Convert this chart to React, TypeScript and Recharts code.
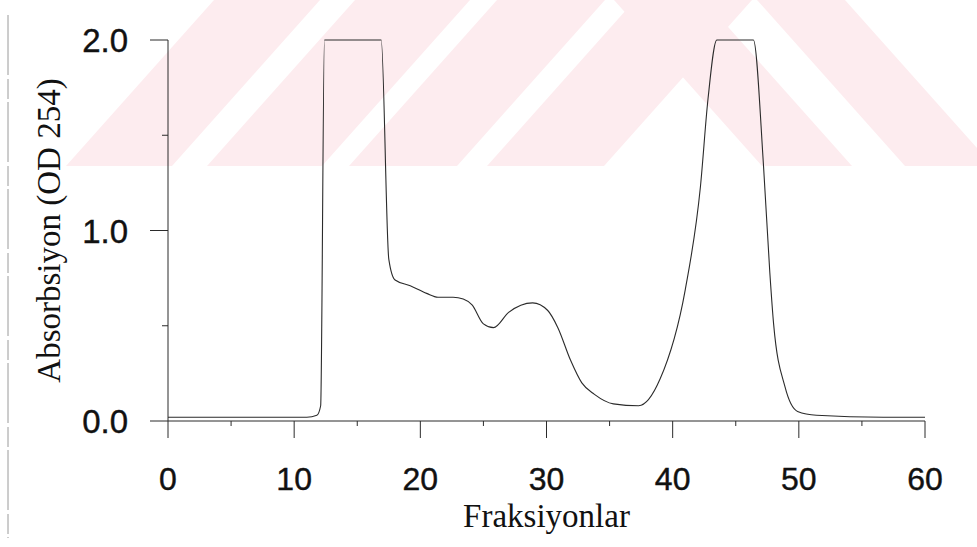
import { Line, LineChart, XAxis, YAxis } from "recharts";

// fraction number vs absorbance
const FRACTION = [
  0, 3, 6, 9, 11.0, 11.8, 12.1, 12.4, 14.5, 16.9, 17.5, 18.0, 19.2, 20.5, 21.4, 22.6, 23.4, 24.1,
  25.0, 25.8, 27.0, 28.9, 30.1, 30.9, 31.9, 32.8, 33.8, 35.3, 37.3, 39.0, 41.0, 42.2, 42.8, 43.5,
  44.3, 45.4, 46.4, 47.2, 47.7, 48.0, 48.9, 49.9, 51.4, 56.7, 60,
];
const ABSORBANCE = [
  0.02, 0.02, 0.02, 0.02, 0.02, 0.03, 0.08, 2.0, 2.0, 2.0, 0.85, 0.74, 0.71, 0.67, 0.65, 0.65, 0.64,
  0.61, 0.51, 0.49, 0.57, 0.62, 0.58, 0.49, 0.32, 0.2, 0.14, 0.09, 0.08, 0.22, 0.69, 1.23, 1.69, 2.0,
  2.0, 2.0, 2.0, 1.34, 0.78, 0.51, 0.18, 0.05, 0.03, 0.02, 0.02,
];
const X_TICKS = [0, 5, 10, 15, 20, 25, 30, 35, 40, 45, 50, 55, 60];
const Y_TICKS = [0, 0.5, 1, 1.5, 2];

const rows = FRACTION.map((f, i) => ({ f, od: ABSORBANCE[i] }));

const INK = "#2b2b2b";
const SANS = "'Liberation Sans', Arial, sans-serif";
const SERIF = "'Liberation Serif', 'Times New Roman', serif";

function XTick(props: any) {
  const { x, y, payload } = props;
  const major = payload.value % 10 === 0;
  return (
    <g>
      <line x1={x} x2={x} y1={y} y2={y + (major ? 17 : 5)} stroke={INK} strokeWidth={1} />
      {major && (
        <text
          x={x}
          y={y + 69}
          textAnchor="middle"
          fontFamily={SANS}
          fontSize={32}
          fill="#111"
          stroke="#111"
          strokeWidth={0.4}
        >
          {payload.value}
        </text>
      )}
    </g>
  );
}

function YTick(props: any) {
  const { x, y, payload } = props;
  const major = payload.value % 1 === 0;
  return (
    <g>
      <line x1={x - (major ? 18 : 6)} x2={x} y1={y} y2={y} stroke={INK} strokeWidth={1} />
      {major && (
        <text
          x={x - 40}
          y={y + 12}
          textAnchor="end"
          fontFamily={SANS}
          fontSize={33}
          fill="#111"
          stroke="#111"
          strokeWidth={0.4}
        >
          {payload.value.toFixed(1)}
        </text>
      )}
    </g>
  );
}

function YLabel(props: any) {
  const { viewBox } = props;
  const cy = viewBox.y + viewBox.height / 2;
  return (
    <text
      x={60}
      y={cy}
      transform={`rotate(-90, 60, ${cy})`}
      textAnchor="middle"
      fontFamily={SERIF}
      fontSize={33}
      fill="#111"
    >
      Absorbsiyon (OD 254)
    </text>
  );
}

// pale stripes of the archive watermark behind the scan
const WM_UP = [
  [214, 320],
  [355, 470],
  [497, 605],
  [635, 752],
];
const WM_DOWN = [
  [614, 704],
  [757, 845],
];

function Watermark() {
  const h = 166;
  const s = 148;
  return (
    <svg width={977} height={547} style={{ position: "absolute", left: 0, top: 0 }}>
      {WM_UP.map(([a, b]) => (
        <polygon key={`u${a}`} points={`${a},0 ${b},0 ${b - s},${h} ${a - s},${h}`} fill="#fdecef" />
      ))}
      {WM_DOWN.map(([a, b]) => (
        <polygon key={`d${a}`} points={`${a},0 ${b},0 ${b + s},${h} ${a + s},${h}`} fill="#fdecef" />
      ))}
      <line x1={8} x2={8} y1={15} y2={538} stroke="#9a9a9a" strokeWidth={1} strokeDasharray="60 4 20 3" />
    </svg>
  );
}

export default function App() {
  return (
    <div style={{ position: "absolute", left: 0, top: 0, width: 977, height: 547, background: "#fff" }}>
      <Watermark />
      <div style={{ position: "absolute", left: 0, top: 0 }}>
        <LineChart width={977} height={547} data={rows} margin={{ top: 40, right: 52, bottom: 0, left: 0 }}>
          <XAxis
            dataKey="f"
            type="number"
            domain={[0, 60]}
            ticks={X_TICKS}
            interval={0}
            height={126}
            tickSize={0}
            tickMargin={0}
            tickLine={false}
            tick={XTick}
            stroke={INK}
            label={{
              value: "Fraksiyonlar",
              position: "insideBottom",
              offset: 20,
              style: { fontFamily: SERIF, fontSize: 33, fill: "#111" },
            }}
          />
          <YAxis
            type="number"
            domain={[0, 2]}
            ticks={Y_TICKS}
            interval={0}
            width={168}
            tickSize={0}
            tickMargin={0}
            tickLine={false}
            tick={YTick}
            stroke={INK}
            label={<YLabel />}
          />
          <Line
            type="monotone"
            dataKey="od"
            stroke={INK}
            strokeWidth={1.1}
            dot={false}
            isAnimationActive={false}
          />
        </LineChart>
      </div>
    </div>
  );
}
